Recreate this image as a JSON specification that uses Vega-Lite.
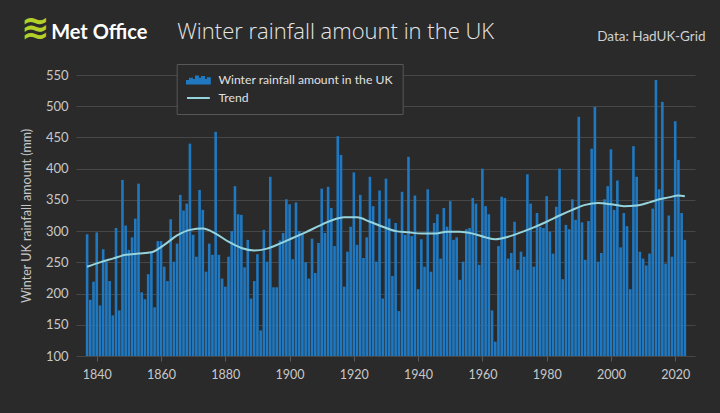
{
  "$schema": "https://vega.github.io/schema/vega-lite/v6.json",
  "width": 619,
  "height": 281,
  "autosize": {"type": "none"},
  "padding": {"left": 76, "top": 75, "right": 25, "bottom": 57},
  "background": "#2a2a2a",
  "title": {"text": "≋", "color": "#b3cf2a", "fontSize": 34, "font": "DejaVu Sans", "fontWeight": "bold", "anchor": "start", "frame": "group", "dx": -55, "dy": 26, "offset": 0},
  "config": {
    "view": {"stroke": null},
    "axis": {"labelFont": "Lato", "titleFont": "Lato", "labelColor": "#c8c8c8", "titleColor": "#c8c8c8", "gridColor": "#474747", "gridWidth": 1, "domain": false, "tickColor": "#5a5a5a"}
  },
  "datasets": {
    "rain": [
      {"year":1837,"rain":295},{"year":1838,"rain":190},{"year":1839,"rain":219},{"year":1840,"rain":298},{"year":1841,"rain":181},{"year":1842,"rain":271},{"year":1843,"rain":251},{"year":1844,"rain":220},{"year":1845,"rain":165},{"year":1846,"rain":305},{"year":1847,"rain":173},{"year":1848,"rain":382},{"year":1849,"rain":309},{"year":1850,"rain":270},{"year":1851,"rain":290},{"year":1852,"rain":320},{"year":1853,"rain":376},{"year":1854,"rain":202},{"year":1855,"rain":191},{"year":1856,"rain":231},{"year":1857,"rain":267},{"year":1858,"rain":178},{"year":1859,"rain":284},{"year":1860,"rain":284},{"year":1861,"rain":243},{"year":1862,"rain":220},{"year":1863,"rain":319},{"year":1864,"rain":251},{"year":1865,"rain":280},{"year":1866,"rain":358},{"year":1867,"rain":333},{"year":1868,"rain":344},{"year":1869,"rain":440},{"year":1870,"rain":294},{"year":1871,"rain":259},{"year":1872,"rain":366},{"year":1873,"rain":334},{"year":1874,"rain":235},{"year":1875,"rain":280},{"year":1876,"rain":262},{"year":1877,"rain":459},{"year":1878,"rain":262},{"year":1879,"rain":224},{"year":1880,"rain":211},{"year":1881,"rain":259},{"year":1882,"rain":300},{"year":1883,"rain":372},{"year":1884,"rain":327},{"year":1885,"rain":326},{"year":1886,"rain":242},{"year":1887,"rain":286},{"year":1888,"rain":192},{"year":1889,"rain":220},{"year":1890,"rain":263},{"year":1891,"rain":141},{"year":1892,"rain":302},{"year":1893,"rain":251},{"year":1894,"rain":387},{"year":1895,"rain":210},{"year":1896,"rain":210},{"year":1897,"rain":285},{"year":1898,"rain":297},{"year":1899,"rain":351},{"year":1900,"rain":343},{"year":1901,"rain":255},{"year":1902,"rain":346},{"year":1903,"rain":300},{"year":1904,"rain":296},{"year":1905,"rain":250},{"year":1906,"rain":224},{"year":1907,"rain":288},{"year":1908,"rain":233},{"year":1909,"rain":281},{"year":1910,"rain":368},{"year":1911,"rain":297},{"year":1912,"rain":371},{"year":1913,"rain":337},{"year":1914,"rain":276},{"year":1915,"rain":452},{"year":1916,"rain":422},{"year":1917,"rain":211},{"year":1918,"rain":267},{"year":1919,"rain":307},{"year":1920,"rain":394},{"year":1921,"rain":278},{"year":1922,"rain":358},{"year":1923,"rain":257},{"year":1924,"rain":290},{"year":1925,"rain":387},{"year":1926,"rain":340},{"year":1927,"rain":251},{"year":1928,"rain":365},{"year":1929,"rain":192},{"year":1930,"rain":384},{"year":1931,"rain":320},{"year":1932,"rain":228},{"year":1933,"rain":313},{"year":1934,"rain":172},{"year":1935,"rain":363},{"year":1936,"rain":294},{"year":1937,"rain":419},{"year":1938,"rain":292},{"year":1939,"rain":357},{"year":1940,"rain":207},{"year":1941,"rain":287},{"year":1942,"rain":243},{"year":1943,"rain":367},{"year":1944,"rain":235},{"year":1945,"rain":313},{"year":1946,"rain":327},{"year":1947,"rain":256},{"year":1948,"rain":337},{"year":1949,"rain":307},{"year":1950,"rain":348},{"year":1951,"rain":286},{"year":1952,"rain":290},{"year":1953,"rain":222},{"year":1954,"rain":251},{"year":1955,"rain":303},{"year":1956,"rain":305},{"year":1957,"rain":353},{"year":1958,"rain":344},{"year":1959,"rain":246},{"year":1960,"rain":400},{"year":1961,"rain":340},{"year":1962,"rain":327},{"year":1963,"rain":173},{"year":1964,"rain":123},{"year":1965,"rain":276},{"year":1966,"rain":355},{"year":1967,"rain":353},{"year":1968,"rain":256},{"year":1969,"rain":265},{"year":1970,"rain":315},{"year":1971,"rain":238},{"year":1972,"rain":267},{"year":1973,"rain":259},{"year":1974,"rain":391},{"year":1975,"rain":344},{"year":1976,"rain":243},{"year":1977,"rain":329},{"year":1978,"rain":307},{"year":1979,"rain":305},{"year":1980,"rain":356},{"year":1981,"rain":299},{"year":1982,"rain":264},{"year":1983,"rain":339},{"year":1984,"rain":400},{"year":1985,"rain":223},{"year":1986,"rain":310},{"year":1987,"rain":303},{"year":1988,"rain":351},{"year":1989,"rain":318},{"year":1990,"rain":483},{"year":1991,"rain":314},{"year":1992,"rain":254},{"year":1993,"rain":316},{"year":1994,"rain":432},{"year":1995,"rain":499},{"year":1996,"rain":251},{"year":1997,"rain":265},{"year":1998,"rain":351},{"year":1999,"rain":372},{"year":2000,"rain":431},{"year":2001,"rain":334},{"year":2002,"rain":381},{"year":2003,"rain":274},{"year":2004,"rain":329},{"year":2005,"rain":308},{"year":2006,"rain":207},{"year":2007,"rain":436},{"year":2008,"rain":387},{"year":2009,"rain":267},{"year":2010,"rain":256},{"year":2011,"rain":245},{"year":2012,"rain":264},{"year":2013,"rain":336},{"year":2014,"rain":542},{"year":2015,"rain":367},{"year":2016,"rain":507},{"year":2017,"rain":248},{"year":2018,"rain":325},{"year":2019,"rain":259},{"year":2020,"rain":476},{"year":2021,"rain":414},{"year":2022,"rain":329},{"year":2023,"rain":286}
    ],
    "trend": [
      {"year":1837,"trend":243},{"year":1841,"trend":250},{"year":1845,"trend":256},{"year":1849,"trend":262},{"year":1853,"trend":264},{"year":1857,"trend":266},{"year":1861,"trend":278},{"year":1865,"trend":293},{"year":1869,"trend":302},{"year":1873,"trend":304},{"year":1877,"trend":296},{"year":1881,"trend":283},{"year":1885,"trend":273},{"year":1889,"trend":269},{"year":1893,"trend":272},{"year":1897,"trend":280},{"year":1901,"trend":289},{"year":1905,"trend":298},{"year":1909,"trend":308},{"year":1913,"trend":317},{"year":1917,"trend":322},{"year":1921,"trend":322},{"year":1925,"trend":315},{"year":1929,"trend":307},{"year":1933,"trend":300},{"year":1937,"trend":298},{"year":1941,"trend":296},{"year":1945,"trend":296},{"year":1949,"trend":299},{"year":1953,"trend":299},{"year":1957,"trend":296},{"year":1961,"trend":290},{"year":1964,"trend":287},{"year":1968,"trend":291},{"year":1972,"trend":298},{"year":1976,"trend":306},{"year":1980,"trend":315},{"year":1984,"trend":325},{"year":1988,"trend":334},{"year":1992,"trend":342},{"year":1996,"trend":345},{"year":2000,"trend":343},{"year":2004,"trend":340},{"year":2008,"trend":341},{"year":2012,"trend":346},{"year":2015,"trend":351},{"year":2018,"trend":354},{"year":2021,"trend":357},{"year":2023,"trend":356}
    ]
  },
  "layer": [
    {
      "data": {"name": "rain"},
      "mark": {"type": "bar", "width": 2.6},
      "encoding": {
        "x": {"field": "year", "type": "quantitative", "scale": {"domain": [1835.1, 2024.6], "nice": false, "zero": false},
              "axis": {"orient": "bottom", "values": [1840,1860,1880,1900,1920,1940,1960,1980,2000,2020], "format": "d", "labelFontSize": 12.5, "ticks": true, "tickSize": 5, "labelPadding": 7, "grid": false,
                       "title": "Met Office", "titleX": -25.3, "titleY": -317.7, "titleAlign": "left", "titleAnchor": "start", "titleBaseline": "alphabetic", "titleFontSize": 20, "titleFontWeight": "bold", "titleColor": "#ffffff"}},
        "y": {"field": "rain", "type": "quantitative", "scale": {"domain": [100, 550], "nice": false, "zero": false},
              "axis": {"orient": "left", "values": [100,150,200,250,300,350,400,450,500,550], "grid": true, "ticks": false, "labelPadding": 8, "labelFontSize": 13,
                       "title": "Winter UK rainfall amount (mm)", "titleFontSize": 12.5, "titleFontWeight": "normal", "titlePadding": 12}},
        "y2": {"datum": 100},
        "color": {"datum": "Winter rainfall amount in the UK", "type": "nominal",
                  "scale": {"domain": ["Winter rainfall amount in the UK", "Trend"], "range": ["#2079c0", "#95d3dd"]},
                  "legend": {"orient": "none", "legendX": 100.7, "legendY": -11, "title": null, "fillColor": "#2a2a2a", "strokeColor": "#575757", "padding": 9, "cornerRadius": 0,
                             "labelFont": "Lato", "labelFontSize": 12.2, "labelColor": "#e0e0e0", "labelLimit": 0, "symbolSize": 144, "symbolOffset": 5.7, "labelOffset": 13, "rowPadding": 3, "symbolStrokeWidth": 2,
                             "encode": {"symbols": {"update": {
                               "shape": {"signal": "datum.value === 'Trend' ? 'M-1.9,0L1.9,0' : 'M-1.9,0.6L-1.9,0.15L-1.56,0.15L-1.56,0.6Z M-1.4,0.6L-1.4,-0.2L-1.06,-0.2L-1.06,0.6Z M-0.9,0.6L-0.9,0L-0.56,0L-0.56,0.6Z M-0.4,0.6L-0.4,-0.6L-0.06,-0.6L-0.06,0.6Z M0.1,0.6L0.1,-0.2L0.44,-0.2L0.44,0.6Z M0.6,0.6L0.6,-0.5L0.94,-0.5L0.94,0.6Z M1.1,0.6L1.1,0L1.44,0L1.44,0.6Z M1.56,0.6L1.56,-0.3L1.9,-0.3L1.9,0.6Z'"},
                               "fill": {"signal": "datum.value === 'Trend' ? 'transparent' : '#2079c0'"},
                               "stroke": {"signal": "datum.value === 'Trend' ? '#95d3dd' : 'transparent'"},
                               "strokeWidth": {"value": 2},
                               "opacity": {"value": 1}
                             }}}}}
      }
    },
    {
      "data": {"name": "trend"},
      "mark": {"type": "line", "interpolate": "monotone", "strokeWidth": 2},
      "encoding": {
        "x": {"field": "year", "type": "quantitative", "scale": {"domain": [1835.1, 2024.6], "nice": false, "zero": false},
              "axis": {"orient": "top", "labels": false, "ticks": false, "grid": false, "domain": false,
                       "title": "Winter rainfall amount in the UK", "titleX": 100.7, "titleY": -36.7, "titleAlign": "left", "titleAnchor": "start", "titleBaseline": "alphabetic", "titleFont": "Open Sans", "titleFontSize": 22, "titleFontWeight": 300, "titleColor": "#e6e6e6"}},
        "y": {"field": "trend", "type": "quantitative", "scale": {"domain": [100, 550], "nice": false, "zero": false},
              "axis": {"orient": "right", "labels": false, "ticks": false, "grid": false, "domain": false,
                       "title": "Data: HadUK-Grid", "titleAngle": 0, "titleX": 10, "titleY": -35, "titleAlign": "right", "titleBaseline": "alphabetic", "titleFontSize": 13.5, "titleFontWeight": "normal", "titleColor": "#d0d0d0"}},
        "color": {"datum": "Trend", "type": "nominal"}
      }
    }
  ],
  "resolve": {"axis": {"x": "independent", "y": "independent"}}
}
